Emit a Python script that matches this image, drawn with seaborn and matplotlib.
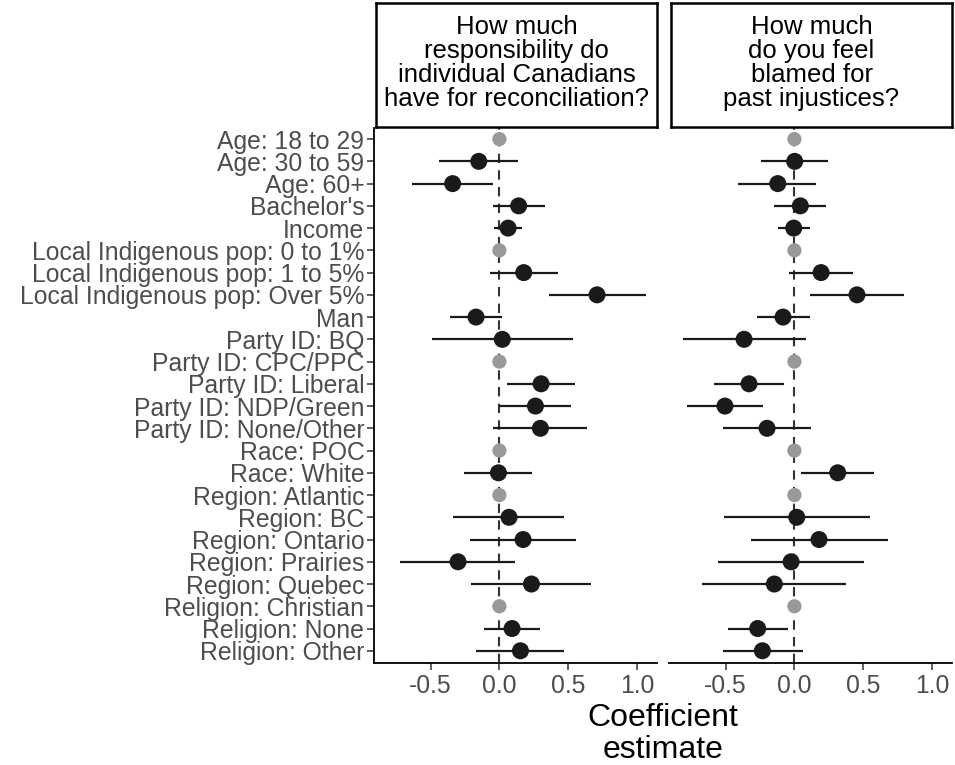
import numpy as np
import pandas as pd
import matplotlib
matplotlib.use("Agg")
import matplotlib.pyplot as plt
import seaborn as sns

terms = [
    "Age: 18 to 29", "Age: 30 to 59", "Age: 60+", "Bachelor's", "Income",
    "Local Indigenous pop: 0 to 1%", "Local Indigenous pop: 1 to 5%",
    "Local Indigenous pop: Over 5%", "Man", "Party ID: BQ", "Party ID: CPC/PPC",
    "Party ID: Liberal", "Party ID: NDP/Green", "Party ID: None/Other",
    "Race: POC", "Race: White", "Region: Atlantic", "Region: BC",
    "Region: Ontario", "Region: Prairies", "Region: Quebec",
    "Religion: Christian", "Religion: None", "Religion: Other",
]
reference = [True, False, False, False, False, True, False, False, False, False,
             True, False, False, False, True, False, True, False, False, False,
             False, True, False, False]

outcomes = [
    "How much\nresponsibility do\nindividual Canadians\nhave for reconciliation?",
    "How much\ndo you feel\nblamed for\npast injustices?",
]

# Outcome 1: responsibility for reconciliation
resp_est = [0.0, -0.15, -0.34, 0.14, 0.063, 0.0, 0.177, 0.71, -0.17, 0.021, 0.0,
            0.303, 0.262, 0.298, 0.0, -0.007, 0.0, 0.07, 0.172, -0.301, 0.233,
            0.0, 0.092, 0.153]
resp_lo = [0.0, -0.44, -0.635, -0.049, -0.039, 0.0, -0.066, 0.358, -0.359, -0.487,
           0.0, 0.056, -0.005, -0.044, 0.0, -0.26, 0.0, -0.337, -0.211, -0.72,
           -0.204, 0.0, -0.112, -0.167]
resp_hi = [0.0, 0.135, -0.044, 0.334, 0.167, 0.0, 0.424, 1.064, 0.021, 0.535, 0.0,
           0.552, 0.519, 0.64, 0.0, 0.24, 0.0, 0.47, 0.56, 0.116, 0.669, 0.0,
           0.298, 0.47]

# Outcome 2: feeling blamed for past injustices
blame_est = [0.0, 0.002, -0.121, 0.043, -0.005, 0.0, 0.194, 0.455, -0.083, -0.366,
             0.0, -0.33, -0.505, -0.199, 0.0, 0.315, 0.0, 0.017, 0.179, -0.024,
             -0.146, 0.0, -0.267, -0.233]
blame_lo = [0.0, -0.243, -0.407, -0.148, -0.121, 0.0, -0.039, 0.114, -0.274, -0.81,
            0.0, -0.585, -0.781, -0.519, 0.0, 0.051, 0.0, -0.514, -0.318, -0.558,
            -0.674, 0.0, -0.485, -0.521]
blame_hi = [0.0, 0.247, 0.16, 0.23, 0.111, 0.0, 0.426, 0.795, 0.111, 0.082, 0.0,
            -0.076, -0.226, 0.121, 0.0, 0.577, 0.0, 0.55, 0.679, 0.509, 0.378, 0.0,
            -0.049, 0.06]

x_ticks = [-0.5, 0.0, 0.5, 1.0]
x_ticklabels = ["-0.5", "0.0", "0.5", "1.0"]

frames = []
for outcome, est, lo, hi in [(outcomes[0], resp_est, resp_lo, resp_hi),
                             (outcomes[1], blame_est, blame_lo, blame_hi)]:
    frames.append(pd.DataFrame({"term": terms, "estimate": est, "low": lo,
                                "high": hi, "reference": reference,
                                "outcome": outcome}))
df = pd.concat(frames, ignore_index=True)
df["row"] = df["term"].map({t: i for i, t in enumerate(terms)})

sns.set_theme(style="white")
plt.rcParams["font.family"] = ["Liberation Sans", "DejaVu Sans"]

fig = plt.figure(figsize=(9.55, 7.65), dpi=100)
W, H = 955, 765
panel_left = [374, 669]
panel_w = 283
top_px, bot_px = 128, 663

tick_grey = "#4D4D4D"
label_size = 17.8
for k, outcome in enumerate(outcomes):
    ax = fig.add_axes([panel_left[k] / W, (H - bot_px) / H, panel_w / W,
                       (bot_px - top_px) / H])
    sub = df[df["outcome"] == outcome]
    est_rows = sub[~sub["reference"]]
    ref_rows = sub[sub["reference"]]

    ax.axvline(0, color="#333333", linestyle=(0, (4.5, 3.5)), linewidth=1.5, zorder=1)
    ax.hlines(est_rows["row"], est_rows["low"], est_rows["high"],
              color="#1a1a1a", linewidth=1.6, zorder=2)
    sns.scatterplot(data=est_rows, x="estimate", y="row", ax=ax, color="#1a1a1a",
                    s=150, edgecolor="none", zorder=3, legend=False)
    sns.scatterplot(data=ref_rows, x="estimate", y="row", ax=ax, color="#999999",
                    s=105, edgecolor="none", zorder=3, legend=False)

    ax.set_xlim(-0.912, 1.146)
    ax.set_ylim(23.55, -0.5)
    ax.set_xticks(x_ticks)
    ax.set_xticklabels(x_ticklabels)
    ax.set_xlabel("")
    ax.set_ylabel("")
    for s in ["top", "right"]:
        ax.spines[s].set_visible(False)
    ax.spines["bottom"].set_color("black")
    ax.spines["bottom"].set_linewidth(1.3)
    ax.tick_params(axis="x", length=5, width=1.1, color="#333333",
                   labelsize=label_size, labelcolor=tick_grey, pad=3, bottom=True)
    if k == 0:
        ax.set_yticks(range(len(terms)))
        ax.set_yticklabels(terms)
        ax.spines["left"].set_color("black")
        ax.spines["left"].set_linewidth(1.3)
        ax.tick_params(axis="y", length=5, width=1.1, color="#333333",
                       labelsize=label_size, labelcolor=tick_grey, pad=2, left=True)
    else:
        ax.spines["left"].set_visible(False)
        ax.set_yticks([])

    # facet strip
    sx = (panel_left[k] + 2) / W
    strip = fig.add_axes([sx, (H - 127) / H, (panel_w - 2) / W, 124 / H])
    strip.set_xticks([])
    strip.set_yticks([])
    for s in strip.spines.values():
        s.set_linewidth(1.8)
        s.set_color("black")
    strip.text(0.5, 0.52, outcome, ha="center", va="center", fontsize=18.5,
               color="black", linespacing=1.0, transform=strip.transAxes)

fig.text((374 + 952) / 2 / W, (H - 734) / H, "Coefficient\nestimate",
         ha="center", va="center", fontsize=23, color="black", linespacing=1.05)

fig.savefig("out.png", dpi=100)
